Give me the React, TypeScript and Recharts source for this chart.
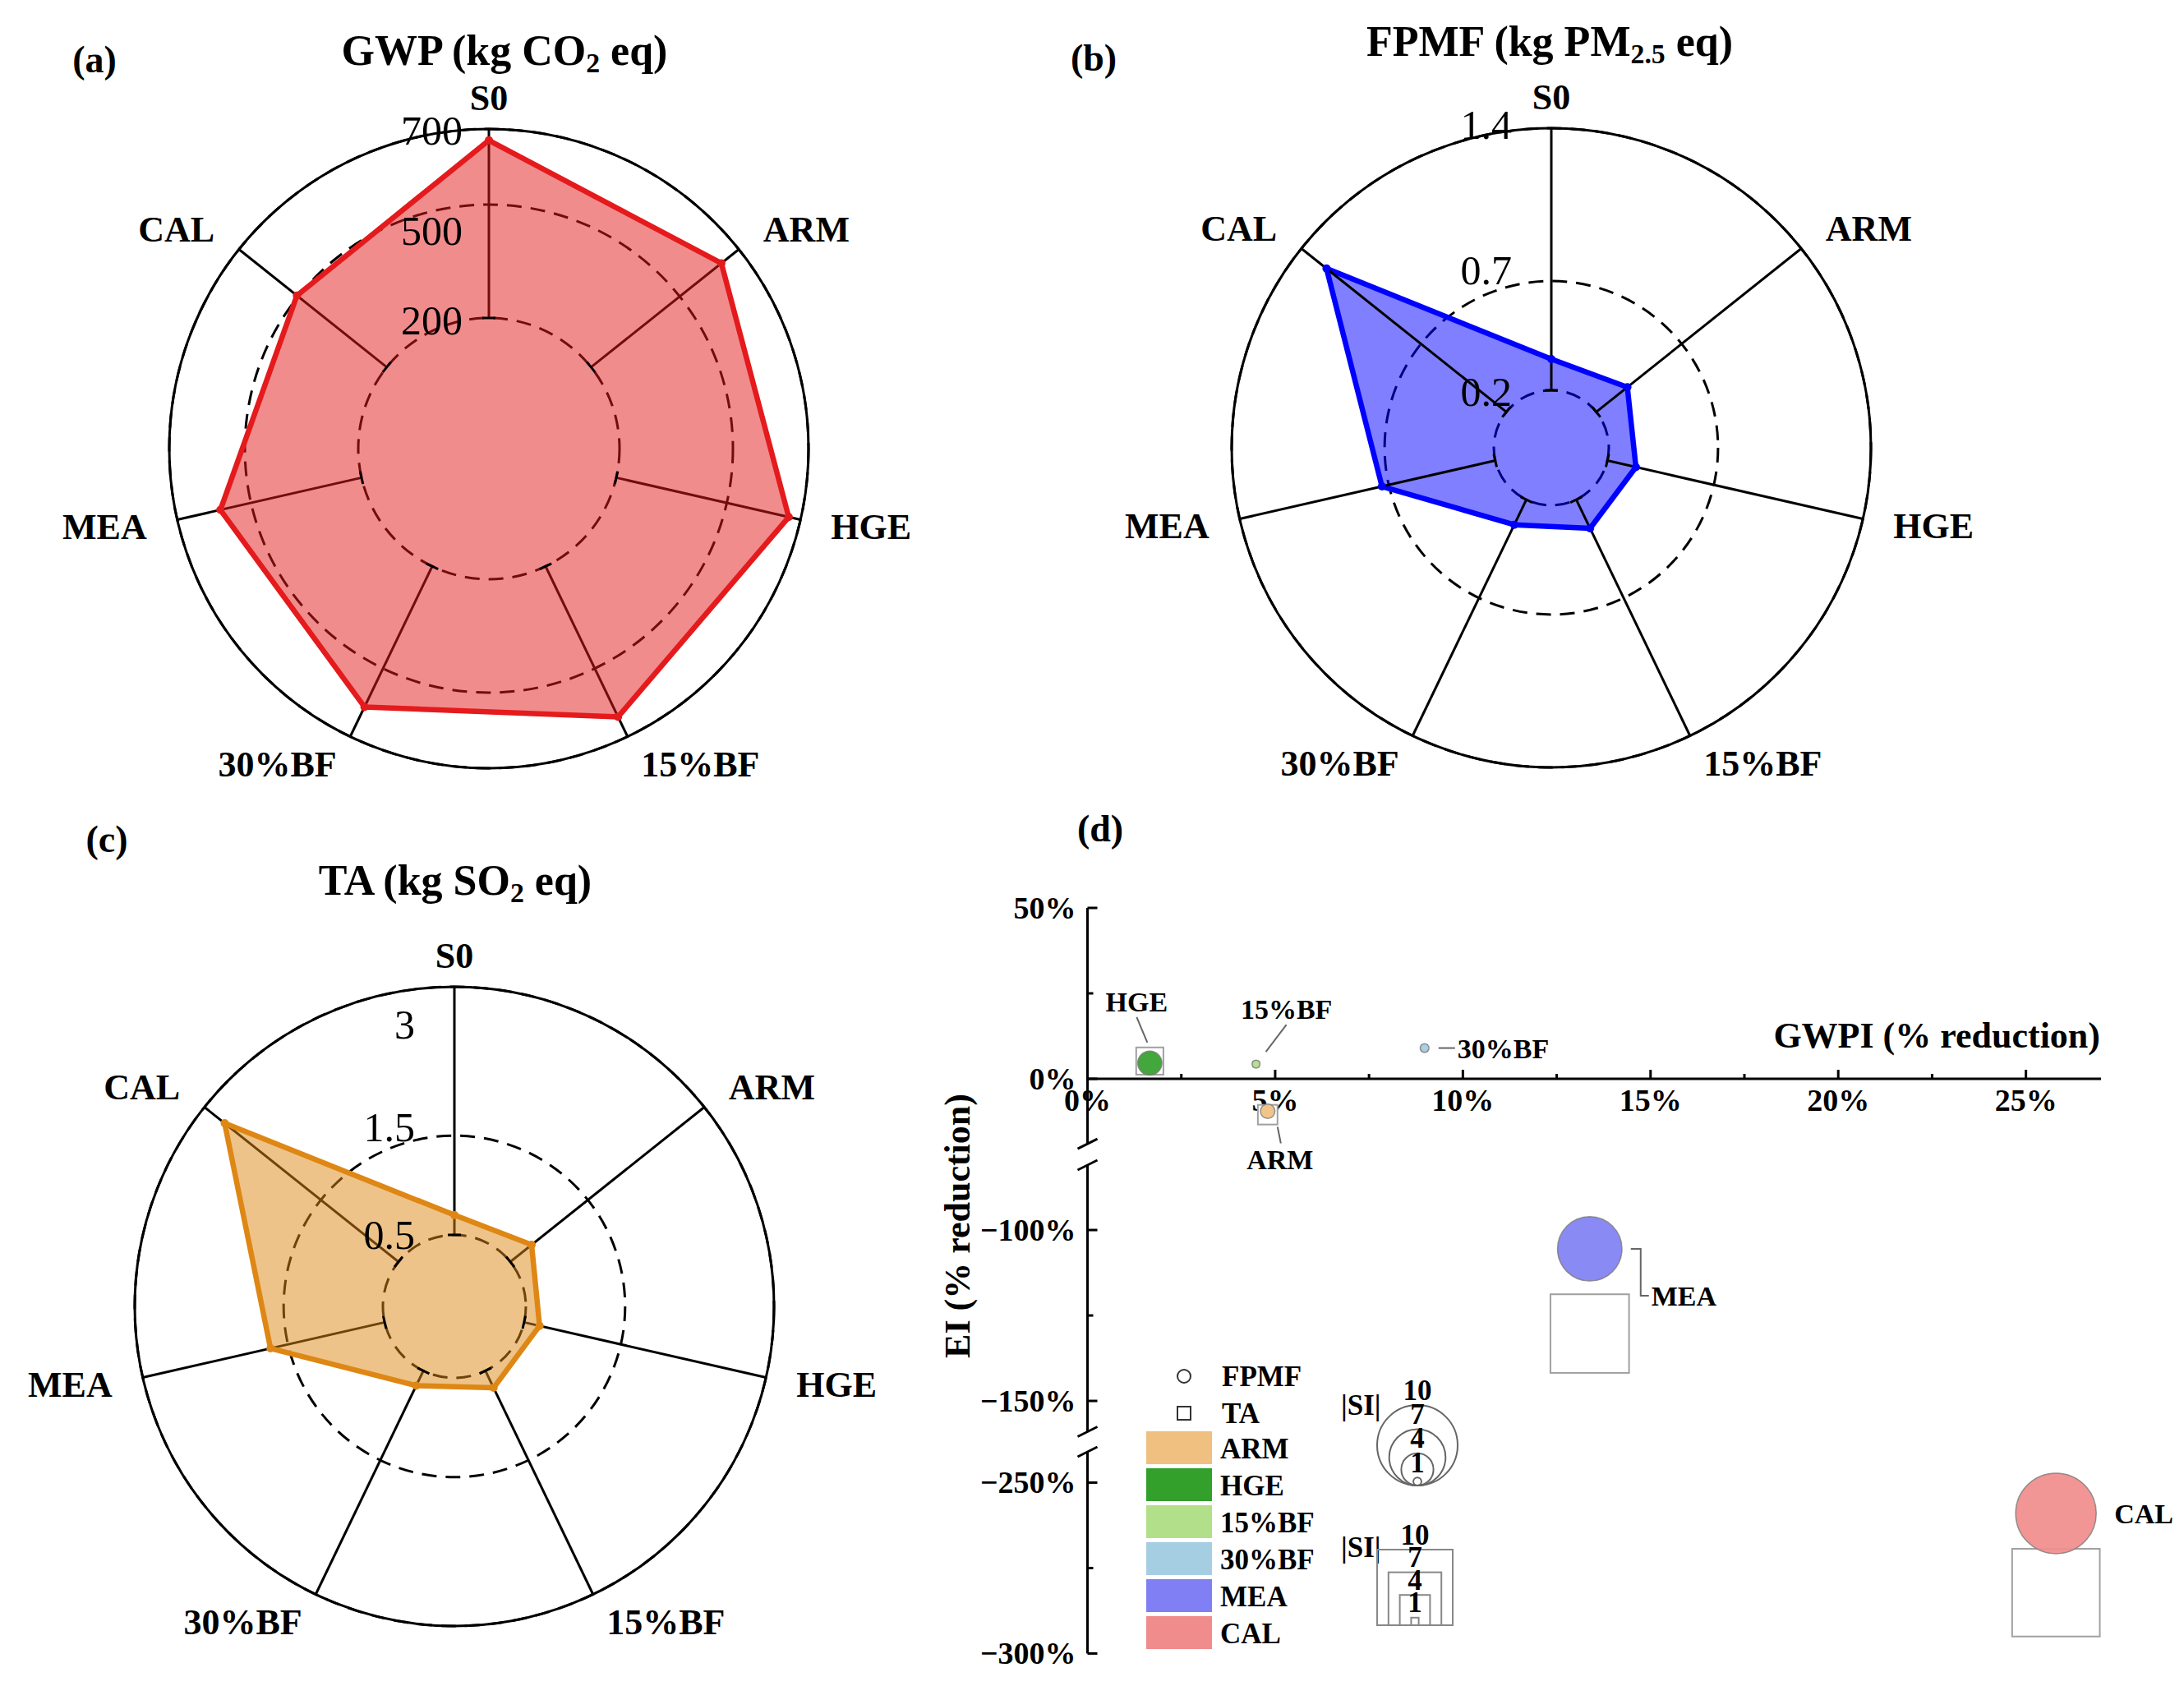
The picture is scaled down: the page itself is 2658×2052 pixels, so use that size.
import React from 'react';
import {
  RadarChart, Radar, PolarGrid, PolarAngleAxis, PolarRadiusAxis,
  ScatterChart, Scatter, XAxis, YAxis,
} from 'recharts';

const FONT = "'Liberation Serif', 'Times New Roman', Times, serif";

// ---------- radar data (panels a, b, c) ----------
const CATEGORIES = ['S0', 'ARM', 'HGE', '15%BF', '30%BF', 'MEA', 'CAL'];
const GWP_VALUES = [670, 641, 668, 642, 613, 583, 504];
const FPMF_VALUES = [0.343, 0.382, 0.334, 0.346, 0.328, 0.732, 1.253];
const TA_VALUES = [0.7, 0.775, 0.66, 0.69, 0.666, 1.68, 2.74];
const GWP_TICKS = [200, 500, 700];
const FPMF_TICKS = [0.2, 0.7, 1.4];
const TA_TICKS = [0.5, 1.5, 3];
const GWP_DOMAIN = [200, 700];
const FPMF_DOMAIN = [0, 1.4];
const TA_DOMAIN = [0.5, 3];

// ---------- bubble data (panel d) ----------
const SCENARIOS = ['ARM', 'HGE', '15%BF', '30%BF', 'MEA', 'CAL'];
const SCENARIO_COLORS = ['#F0C080', '#33A02C', '#B2DF8A', '#A6CEE3', '#8080F4', '#F08C8C'];
const GWPI_REDUCTION = [4.8, 1.66, 4.49, 8.98, 13.38, 25.8];
const EI_FPMF = [-9.5, 4.6, 4.3, 9.0, -105.5, -259];
const EI_TA = [-10.5, 5.2, 4.3, 9.0, -130.3, -282.2];
const SI_FPMF = [1.8, 3.0, 1.0, 1.1, 8.0, 10.0];
const SI_TA = [2.6, 3.6, 0.7, 0.7, 10.4, 11.6];
const X_DOMAIN = [0, 27];
const X_TICKS = [0, 2.5, 5, 7.5, 10, 12.5, 15, 17.5, 20, 22.5, 25];
const X_MAJOR = [0, 5, 10, 15, 20, 25];
const Y_MAJOR = [50, 0, -100, -150, -250, -300];
const Y_SEG_TOP = [0, 50];
const Y_SEG_TOP_LOW = [-19, 0];
const Y_SEG_MID = [-159, -81];
const Y_SEG_BOTTOM = [-300, -241];
const Y_TICKS_TOP = [0, 25, 50];
const Y_TICKS_TOP_LOW = [-19];
const Y_TICKS_MID = [-159, -150, -125, -100, -81];
const Y_TICKS_BOTTOM = [-300, -275, -250, -241];
const SI_LEGEND = [10, 7, 4, 1];

// ---------- style constants ----------
const PX_PER_PCT = 4.16;
const CIRCLE_R_PER_SI = 4.9;
const SQUARE_SIDE_PER_SI = 9.2;
const D_LEFT = 1150;
const D_WIDTH = 1508;
const Y_AXIS_W = 173.5;
const D_RIGHT = 101;
const RADAR_OUTER = 389;
const RAD = Math.PI / 180;

const ANNOTATIONS: Record<string, { dx: number; dy: number; anchor: string; leader: number[][] }> = {
  HGE: { dx: -16, dy: -74, anchor: 'middle', leader: [[-16, -56], [-3, -25]] },
  '15%BF': { dx: 37, dy: -67, anchor: 'middle', leader: [[37, -48], [12, -15]] },
  '30%BF': { dx: 40, dy: 1, anchor: 'start', leader: [[17, 0], [37, 0]] },
  ARM: { dx: 15, dy: 59, anchor: 'middle', leader: [[12, 19], [16, 39]] },
  MEA: { dx: 75, dy: 58, anchor: 'start', leader: [[50, 0], [62, 0], [62, 57], [72, 57]] },
  CAL: { dx: 71, dy: 1, anchor: 'start', leader: [] },
};

const fpmfTable = SCENARIOS.map((name, i) => ({
  name, x: GWPI_REDUCTION[i], y: EI_FPMF[i], si: SI_FPMF[i], color: SCENARIO_COLORS[i],
}));
const taTable = SCENARIOS.map((name, i) => ({
  name, x: GWPI_REDUCTION[i], y: EI_TA[i], si: SI_TA[i], color: SCENARIO_COLORS[i],
}));

const fmtPct = (v: number) => (v < 0 ? `\u2212${Math.abs(v)}%` : `${v}%`);

function RadarPanel({ left, top, width, height, cx, cy, chartInner, spokeInner, customSpokes, domain, values, ticks, color, labelDx, labelDy }: any) {
  const data = CATEGORIES.map((name, i) => ({ name, value: values[i] }));
  const angleTick = (p: any) => {
    const a = (p.payload.coordinate || 0) * RAD;
    const ux = Math.cos(a);
    const uy = -Math.sin(a);
    const px = cx + spokeInner * ux;
    const py = cy + spokeInner * uy;
    const vx = Math.sin(a) * 8;
    const vy = Math.cos(a) * 8;
    return (
      <g>
        {customSpokes && (
          <line x1={px} y1={py} x2={cx + RADAR_OUTER * ux} y2={cy + RADAR_OUTER * uy} stroke="#000" strokeWidth={3} />
        )}
        <line x1={px - vx} y1={py - vy} x2={px + vx} y2={py + vy} stroke="#000" strokeWidth={3} />
        <text x={p.x} y={p.y} textAnchor={p.textAnchor} dominantBaseline="central"
          fontFamily={FONT} fontWeight="bold" fontSize={44} fill="#000">{p.payload.value}</text>
      </g>
    );
  };
  const radiusTick = (p: any) => (
    <text x={p.x + labelDx} y={p.y + (labelDy[String(p.payload.value)] || 0)} textAnchor="end"
      dominantBaseline="central" fontFamily={FONT} fontSize={50} fill="#000">{p.payload.value}</text>
  );
  return (
    <div style={{ position: 'absolute', left, top }}>
      <RadarChart width={width} height={height} cx={cx} cy={cy} innerRadius={chartInner} outerRadius={RADAR_OUTER}
        data={data} margin={{ top: 0, right: 0, bottom: 0, left: 0 }}>
        <PolarGrid gridType="circle" radialLines={false} stroke="#000" strokeWidth={3} strokeDasharray="18 11" />
        {!customSpokes && <PolarGrid gridType="circle" polarRadius={[]} stroke="#000" strokeWidth={3} />}
        <PolarAngleAxis dataKey="name" tickLine={false} tickSize={38} axisLineType="circle"
          axisLine={{ stroke: '#000', strokeWidth: 3 }} tick={angleTick} />
        <Radar dataKey="value" stroke={color} strokeWidth={6.5} strokeLinejoin="round" fill={color} fillOpacity={0.5}
          dot={{ r: 5, fill: color, fillOpacity: 1, stroke: color, strokeWidth: 0 }} isAnimationActive={false} />
        <PolarRadiusAxis angle={90} type="number" domain={domain} ticks={ticks}
          allowDataOverflow axisLine={false} tickLine={false} tick={radiusTick} />
      </RadarChart>
    </div>
  );
}

const squareShape = (p: any) => {
  const s = p.payload.si * SQUARE_SIDE_PER_SI;
  return <rect x={p.cx - s / 2} y={p.cy - s / 2} width={s} height={s} fill="#fff" stroke="#a0a0a0" strokeWidth={2} />;
};

const circleShape = (p: any) => {
  const r = p.payload.si * CIRCLE_R_PER_SI;
  const a = ANNOTATIONS[p.payload.name];
  return (
    <g>
      <circle cx={p.cx} cy={p.cy} r={r} fill={p.payload.color} fillOpacity={0.92} stroke="#7a7a7a" strokeOpacity={0.8} strokeWidth={1.5} />
      {a && a.leader.length > 0 && (
        <polyline points={a.leader.map(([dx, dy]) => `${p.cx + dx},${p.cy + dy}`).join(' ')}
          fill="none" stroke="#666" strokeWidth={2} />
      )}
      {a && (
        <text x={p.cx + a.dx} y={p.cy + a.dy} textAnchor={a.anchor} dominantBaseline="central"
          fontFamily={FONT} fontWeight="bold" fontSize={34} fill="#000">{p.payload.name}</text>
      )}
    </g>
  );
};

const xTick = (p: any) => {
  const v = p.payload.value;
  const major = X_MAJOR.includes(v);
  return (
    <g>
      <line x1={p.x} y1={p.y} x2={p.x} y2={p.y - (major ? 11 : 6)} stroke="#000" strokeWidth={3} />
      {major && (
        <text x={p.x} y={p.y + 26} textAnchor="middle" dominantBaseline="central"
          fontFamily={FONT} fontWeight="bold" fontSize={38} fill="#000">{`${v}%`}</text>
      )}
    </g>
  );
};

const makeYTick = (breaks: number[]) => (p: any) => {
  const v = p.payload.value;
  if (breaks.includes(v)) {
    return <line x1={p.x - 12} y1={p.y + 6} x2={p.x + 12} y2={p.y - 6} stroke="#000" strokeWidth={3} />;
  }
  const major = Y_MAJOR.includes(v);
  return (
    <g>
      <line x1={p.x} y1={p.y} x2={p.x + (major ? 12 : 7)} y2={p.y} stroke="#000" strokeWidth={3} />
      {major && (
        <text x={p.x - 14} y={p.y} textAnchor="end" dominantBaseline="central"
          fontFamily={FONT} fontWeight="bold" fontSize={38} fill="#000">{fmtPct(v)}</text>
      )}
    </g>
  );
};

function Segment({ domain, plotTop, padTop, padBottom, showXAxis, ticks, breaks }: any) {
  const plotH = (domain[1] - domain[0]) * PX_PER_PCT;
  const height = padTop + plotH + padBottom;
  const inSeg = (d: any) => d.y >= domain[0] && d.y <= domain[1];
  return (
    <div style={{ position: 'absolute', left: D_LEFT, top: plotTop - padTop }}>
      <ScatterChart width={D_WIDTH} height={height}
        margin={{ top: padTop, right: D_RIGHT, bottom: showXAxis ? 0 : padBottom, left: 0 }}>
        <XAxis type="number" dataKey="x" domain={X_DOMAIN} ticks={X_TICKS} interval={0} hide={!showXAxis}
          height={showXAxis ? padBottom : 0} tickSize={0} tickMargin={0} tickLine={false}
          axisLine={{ stroke: '#000', strokeWidth: 3 }} tick={xTick} />
        <YAxis type="number" dataKey="y" domain={domain} ticks={ticks} interval={0} width={Y_AXIS_W}
          tickSize={0} tickMargin={0} tickLine={false} axisLine={{ stroke: '#000', strokeWidth: 3 }}
          tick={makeYTick(breaks)} />
        <Scatter data={taTable.filter(inSeg)} shape={squareShape} isAnimationActive={false} />
        <Scatter data={fpmfTable.filter(inSeg)} shape={circleShape} isAnimationActive={false} />
      </ScatterChart>
    </div>
  );
}

const textStyle = (x: number, y: number, size: number, extra: any = {}) => ({
  position: 'absolute' as const, left: x, top: y, transform: 'translate(-50%, -50%)', whiteSpace: 'nowrap' as const,
  fontFamily: FONT, fontWeight: 'bold' as const, fontSize: size, lineHeight: 1, color: '#000', ...extra,
});
const subStyle = { fontSize: '65%', verticalAlign: 'baseline', position: 'relative' as const, top: '0.28em' };

export default function App() {
  return (
    <div style={{ position: 'relative', width: 2658, height: 2052, background: '#fff', overflow: 'hidden' }}>
      <style>{'body{margin:0;}'}</style>

      <RadarPanel left={0} top={0} width={1250} height={1000} cx={595} cy={546} chartInner={159} spokeInner={159}
        domain={GWP_DOMAIN} values={GWP_VALUES} ticks={GWP_TICKS} color="#E41A1C" labelDx={-32} labelDy={{ '500': 32, '700': 2, '200': 3 }} />
      <RadarPanel left={1290} top={0} width={1250} height={1000} cx={598} cy={545} chartInner={16.8} spokeInner={70} customSpokes
        domain={FPMF_DOMAIN} values={FPMF_VALUES} ticks={FPMF_TICKS} color="#0000FF" labelDx={-48} labelDy={{ '1.4': -4, '0.7': -13, '0.2': 2 }} />
      <RadarPanel left={0} top={990} width={1150} height={1062} cx={553} cy={600} chartInner={87} spokeInner={87}
        domain={TA_DOMAIN} values={TA_VALUES} ticks={TA_TICKS} color="#DE8714" labelDx={-48} labelDy={{ '3': 46, '1.5': -10, '0.5': 0 }} />

      <Segment domain={Y_SEG_TOP} plotTop={1105} padTop={60} padBottom={90} showXAxis ticks={Y_TICKS_TOP} breaks={[]} />
      <Segment domain={Y_SEG_TOP_LOW} plotTop={1313} padTop={10} padBottom={60} showXAxis={false} ticks={Y_TICKS_TOP_LOW} breaks={[-19]} />
      <Segment domain={Y_SEG_MID} plotTop={1418} padTop={30} padBottom={30} showXAxis={false} ticks={Y_TICKS_MID} breaks={[-159, -81]} />
      <Segment domain={Y_SEG_BOTTOM} plotTop={1767} padTop={40} padBottom={30} showXAxis={false} ticks={Y_TICKS_BOTTOM} breaks={[-241]} />

      {/* panel labels and titles */}
      <div style={textStyle(115, 73, 46)}>(a)</div>
      <div style={textStyle(614, 62, 52)}>GWP (kg CO<span style={subStyle}>2</span> eq)</div>
      <div style={textStyle(1331, 71, 46)}>(b)</div>
      <div style={textStyle(1886, 51, 52)}>FPMF (kg PM<span style={subStyle}>2.5</span> eq)</div>
      <div style={textStyle(130, 1022, 46)}>(c)</div>
      <div style={textStyle(554, 1072, 52)}>TA (kg SO<span style={subStyle}>2</span> eq)</div>
      <div style={textStyle(1339, 1009, 46)}>(d)</div>
      <div style={textStyle(2556, 1261, 44, { transform: 'translate(-100%, -50%)' })}>GWPI (% reduction)</div>
      <div style={textStyle(1166, 1492, 44, { transform: 'translate(-50%, -50%) rotate(-90deg)' })}>EI (% reduction)</div>

      {/* legends for panel d */}
      <svg width={2658} height={2052} style={{ position: 'absolute', left: 0, top: 0, pointerEvents: 'none' }}>
        <g fontFamily={FONT} fontWeight="bold" fontSize={35} fill="#000">
          <circle cx={1441} cy={1675} r={8} fill="none" stroke="#333" strokeWidth={2} />
          <text x={1487} y={1675} dominantBaseline="central">FPMF</text>
          <rect x={1433} y={1712} width={16} height={16} fill="none" stroke="#333" strokeWidth={2} />
          <text x={1487} y={1720} dominantBaseline="central">TA</text>
          {SCENARIOS.map((s, i) => (
            <g key={s}>
              <rect x={1395} y={1742 + i * 45} width={80} height={40} fill={SCENARIO_COLORS[i]} />
              <text x={1485} y={1763 + i * 45} dominantBaseline="central">{s}</text>
            </g>
          ))}

          <text x={1632} y={1710} dominantBaseline="central">|SI|</text>
          {SI_LEGEND.map((si) => {
            const r = si * CIRCLE_R_PER_SI;
            return <circle key={`c${si}`} cx={1725} cy={1808 - r} r={r} fill="none" stroke="#666" strokeWidth={2} />;
          })}
          {SI_LEGEND.map((si) => {
            const r = si * CIRCLE_R_PER_SI;
            return <text key={`ct${si}`} x={1725} y={1808 - 2 * r - 18} textAnchor="middle" dominantBaseline="central">{si}</text>;
          })}

          <text x={1632} y={1883} dominantBaseline="central">|SI|</text>
          {SI_LEGEND.map((si) => {
            const s = si * SQUARE_SIDE_PER_SI;
            return <rect key={`s${si}`} x={1722 - s / 2} y={1978 - s} width={s} height={s} fill="none" stroke="#888" strokeWidth={2} />;
          })}
          {SI_LEGEND.map((si) => {
            const s = si * SQUARE_SIDE_PER_SI;
            return <text key={`st${si}`} x={1722} y={1978 - s - 18} textAnchor="middle" dominantBaseline="central">{si}</text>;
          })}
        </g>
      </svg>
    </div>
  );
}
